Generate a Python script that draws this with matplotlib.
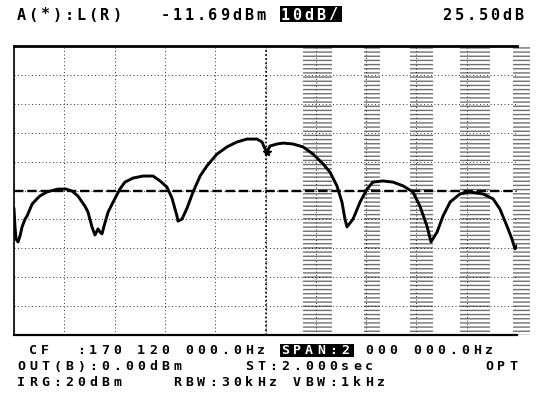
import numpy as np
import matplotlib
matplotlib.use("Agg")
from matplotlib import pyplot as plt
from matplotlib.patches import Rectangle

# spectrum analyser screen: CF 170.12 MHz, span 2 MHz, ref 25.5 dBm, 10 dB/div
center_mhz = 170.12
span_mhz = 2.0
ref_dbm = 25.5
db_per_div = 10.0

freq_mhz = [169.120, 169.124, 169.128, 169.136, 169.144, 169.152, 169.164, 169.172,
            169.192, 169.211, 169.223, 169.251, 169.295, 169.327, 169.351, 169.374,
            169.402, 169.414, 169.430, 169.442, 169.454, 169.462, 169.470, 169.478,
            169.494, 169.514, 169.541, 169.561, 169.593, 169.633, 169.673, 169.701,
            169.728, 169.748, 169.768, 169.772, 169.788, 169.808, 169.832, 169.860,
            169.887, 169.927, 169.967, 170.007, 170.046, 170.086, 170.106, 170.118,
            170.126, 170.138, 170.166, 170.190, 170.229, 170.269, 170.309, 170.349,
            170.376, 170.404, 170.424, 170.436, 170.444, 170.468, 170.496, 170.524,
            170.547, 170.587, 170.627, 170.667, 170.706, 170.734, 170.762, 170.778,
            170.802, 170.826, 170.854, 170.893, 170.933, 170.985, 171.025, 171.052,
            171.080, 171.100, 171.112, 171.120]
level_dbm = [-30.9, -37.1, -41.3, -42.3, -40.2, -37.1, -34.4, -33.3,
             -29.2, -27.4, -26.4, -25.0, -24.0, -24.0, -24.7, -26.4,
             -29.9, -31.9, -37.1, -39.9, -37.8, -38.9, -39.5, -36.8,
             -32.0, -28.5, -24.0, -21.6, -20.2, -19.5, -19.5, -21.2,
             -23.3, -27.1, -33.3, -35.1, -34.4, -30.6, -25.0, -19.5,
             -16.0, -11.9, -9.4, -7.7, -6.7, -6.7, -7.7, -10.1,
             -11.2, -9.1, -8.4, -8.1, -8.4, -9.4, -11.9, -15.3,
             -18.1, -22.9, -28.5, -34.4, -37.1, -34.4, -28.5, -24.0,
             -21.6, -21.2, -21.6, -22.9, -25.0, -29.9, -36.8, -42.3,
             -38.9, -33.3, -28.5, -25.7, -25.0, -25.7, -27.4, -30.9,
             -36.8, -41.3, -44.7, -43.7]
marker_mhz = 170.126
marker_dbm = -11.69

header = [("A(*):L(R)", 0), ("-11.69dBm", 12), ("25.50dB", 35.5)]
scale_label = "10dB/"
span_label = "SPAN:2"
footer = [
    [(" CF  :170 120 000.0Hz", 0), ("000 000.0Hz", 29)],
    [("OUT(B):0.00dBm", 0), ("ST:2.000sec", 19), ("OPT", 39)],
    [("IRG:20dBm", 0), ("RBW:30kHz", 13), ("VBW:1kHz", 23)],
]

W, H = 538, 414
fig = plt.figure(figsize=(W / 100, H / 100), dpi=100)
fig.patch.set_facecolor("white")
ax = fig.add_axes([14 / W, 1 - 336 / H, 503 / W, 289 / H])

f0 = center_mhz - span_mhz / 2
f1 = center_mhz + span_mhz / 2
bottom = ref_dbm - 10 * db_per_div
ax.set_xlim(f0, f1)
ax.set_ylim(bottom, ref_dbm)
ax.set_xticks(np.linspace(f0, f1, 11))
ax.set_yticks(np.linspace(bottom, ref_dbm, 11))
ax.tick_params(length=0, labelbottom=False, labelleft=False)
ax.grid(True, color="#333333", lw=0.7, ls=(0, (1, 2.6)))
ax.set_axisbelow(True)

# scan streaks on the right half of the screen
for a, b in [(170.27, 170.385), (170.51, 170.575), (170.695, 170.786),
             (170.893, 171.013), (171.104, 171.17)]:
    r = Rectangle((a, bottom), b - a, ref_dbm - bottom, facecolor="none",
                  edgecolor="#111111", hatch="----", lw=0, alpha=0.6,
                  clip_on=False)
    ax.add_patch(r)

# centre lines
ax.axhline(ref_dbm - 5 * db_per_div, color="black", lw=1.7, ls=(0, (4, 1.6)))
ax.axvline(center_mhz, color="black", lw=1.2, ls=(0, (1, 1.5)))

ax.spines["right"].set_visible(False)
ax.spines["top"].set_linewidth(2.0)
ax.spines["bottom"].set_linewidth(1.6)
ax.spines["left"].set_linewidth(1.2)
ax.spines["left"].set_linestyle((0, (1, 1)))

ax.plot(freq_mhz, level_dbm, color="black", lw=2.1, solid_joinstyle="round")
ax.plot([marker_mhz], [marker_dbm + 0.5], marker="*", color="black", ms=6)

X0, PITCH = 15, 12.0


def put(y, col, s, size, color="black"):
    for i, ch in enumerate(s):
        if ch == " ":
            continue
        x = X0 + (col + i) * PITCH + PITCH / 2
        fig.text(x / W, 1 - y / H, ch, ha="center", va="center", color=color,
                 family="DejaVu Sans Mono", fontsize=size, fontweight="bold")


def put_inverse(y, col, s, size, h=15):
    x = X0 + col * PITCH
    fig.patches.append(Rectangle(((x + 1) / W, 1 - (y + h / 2) / H),
                                 (len(s) * PITCH + 2) / W, h / H,
                                 transform=fig.transFigure,
                                 facecolor="black", edgecolor="none"))
    put(y, col, s, size, color="white")


for s, col in header:
    put(15, col, s, 11)
put_inverse(15, 22, scale_label, 11, h=16)

rows = [351, 367, 383]
for y, parts in zip(rows, footer):
    for s, col in parts:
        put(y, col, s, 9.5)
put_inverse(rows[0], 22, span_label, 9.5, h=13)

fig.savefig("out.png", dpi=100, facecolor="white")
